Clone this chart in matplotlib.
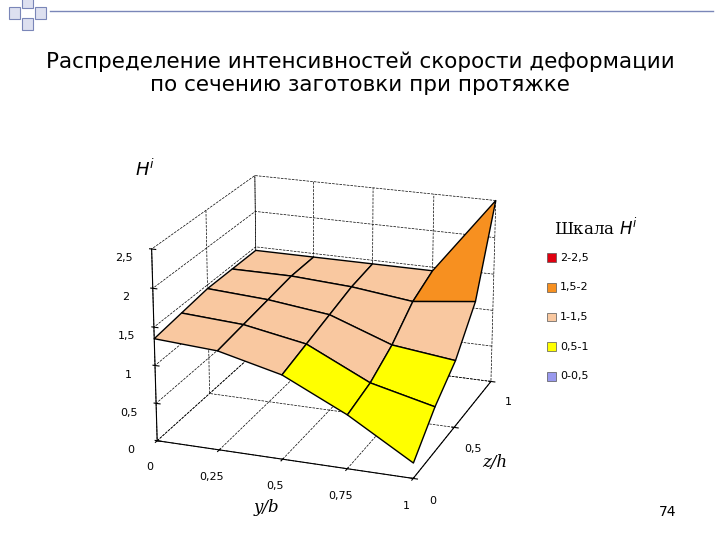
import numpy as np
import matplotlib
matplotlib.use("Agg")
import matplotlib.pyplot as plt
from matplotlib.patches import Rectangle

y_vals = [0, 0.25, 0.5, 0.75, 1]
z_vals = [0, 0.25, 0.5, 0.75, 1]
H = np.array([
    [1.35, 1.30, 1.10, 0.70, 0.20],
    [1.40, 1.35, 1.20, 0.80, 0.60],
    [1.45, 1.40, 1.30, 1.00, 0.90],
    [1.45, 1.45, 1.40, 1.30, 1.40],
    [1.45, 1.45, 1.45, 1.45, 2.50],
])
bins = [0, 0.5, 1, 1.5, 2, 2.5]
bin_labels = ["0-0,5", "0,5-1", "1-1,5", "1,5-2", "2-2,5"]
bin_colors = ["#9999ee", "#ffff00", "#f9c8a0", "#f79020", "#e00010"]

fig = plt.figure(figsize=(7.2, 5.4), dpi=100)
fig.text(0.5, 0.865, "Распределение интенсивностей скорости деформации\nпо сечению заготовки при протяжке",
         ha="center", va="center", fontsize=15.5, linespacing=1.2)
for (x, yy) in [(0.012, 0.965), (0.03, 0.985), (0.03, 0.945), (0.048, 0.965)]:
    fig.patches.append(Rectangle((x, yy), 0.016, 0.022, transform=fig.transFigure,
                                 facecolor="#dde0f0", edgecolor="#7a86b8", lw=0.8))
fig.add_artist(plt.Line2D([0.07, 0.99], [0.98, 0.98], transform=fig.transFigure, color="#7a86b8", lw=1))
fig.text(0.915, 0.045, "74", fontsize=10)

ax = fig.add_axes([0.14, 0.02, 0.62, 0.76], projection="3d")
Y, Z = np.meshgrid(y_vals, z_vals)
avg = (H[:-1, :-1] + H[1:, :-1] + H[:-1, 1:] + H[1:, 1:]) / 4
idx = np.clip(np.digitize(avg, bins) - 1, 0, 4)
fc = np.empty(avg.shape, dtype=object)
for i in range(avg.shape[0]):
    for j in range(avg.shape[1]):
        fc[i, j] = bin_colors[idx[i, j]]
ax.plot_surface(Y, Z, H, facecolors=fc, edgecolor="black", linewidth=1, shade=False)
ax.set_zlim(0, 2.5)
ax.set_xlim(0, 1); ax.set_ylim(0, 1)
ax.set_xticks([0, 0.25, 0.5, 0.75, 1]); ax.set_xticklabels(["0", "0,25", "0,5", "0,75", "1"], fontsize=8)
ax.set_yticks([0, 0.5, 1]); ax.set_yticklabels(["0", "0,5", "1"], fontsize=8)
ax.set_zticks([0, 0.5, 1, 1.5, 2, 2.5]); ax.set_zticklabels(["0", "0,5", "1", "1,5", "2", "2,5"], fontsize=8)
ax.set_xlabel("y/b", fontsize=12, family="serif", style="italic")
ax.set_ylabel("z/h", fontsize=12, family="serif", style="italic")
ax.text2D(0.04, 0.86, "$H^i$", transform=ax.transAxes, fontsize=13, family="serif")
ax.zaxis._axinfo["juggled"] = (1, 2, 0)
for a in (ax.xaxis, ax.yaxis, ax.zaxis):
    a.set_pane_color((1, 1, 1, 0))
    a._axinfo["grid"]["linestyle"] = "--"
    a._axinfo["grid"]["color"] = "black"
    a._axinfo["grid"]["linewidth"] = 0.5
ax.view_init(elev=20, azim=-70)

fig.text(0.77, 0.565, "Шкала $H^i$", fontsize=12, family="serif")
for k in range(5):
    yy = 0.515 - k * 0.055
    lbl_i = 4 - k
    fig.patches.append(Rectangle((0.76, yy), 0.012, 0.016, transform=fig.transFigure,
                                 facecolor=bin_colors[lbl_i], edgecolor="#555555", lw=0.5))
    fig.text(0.778, yy + 0.008, bin_labels[lbl_i], fontsize=8, va="center")

fig.savefig("out.png", dpi=100)
